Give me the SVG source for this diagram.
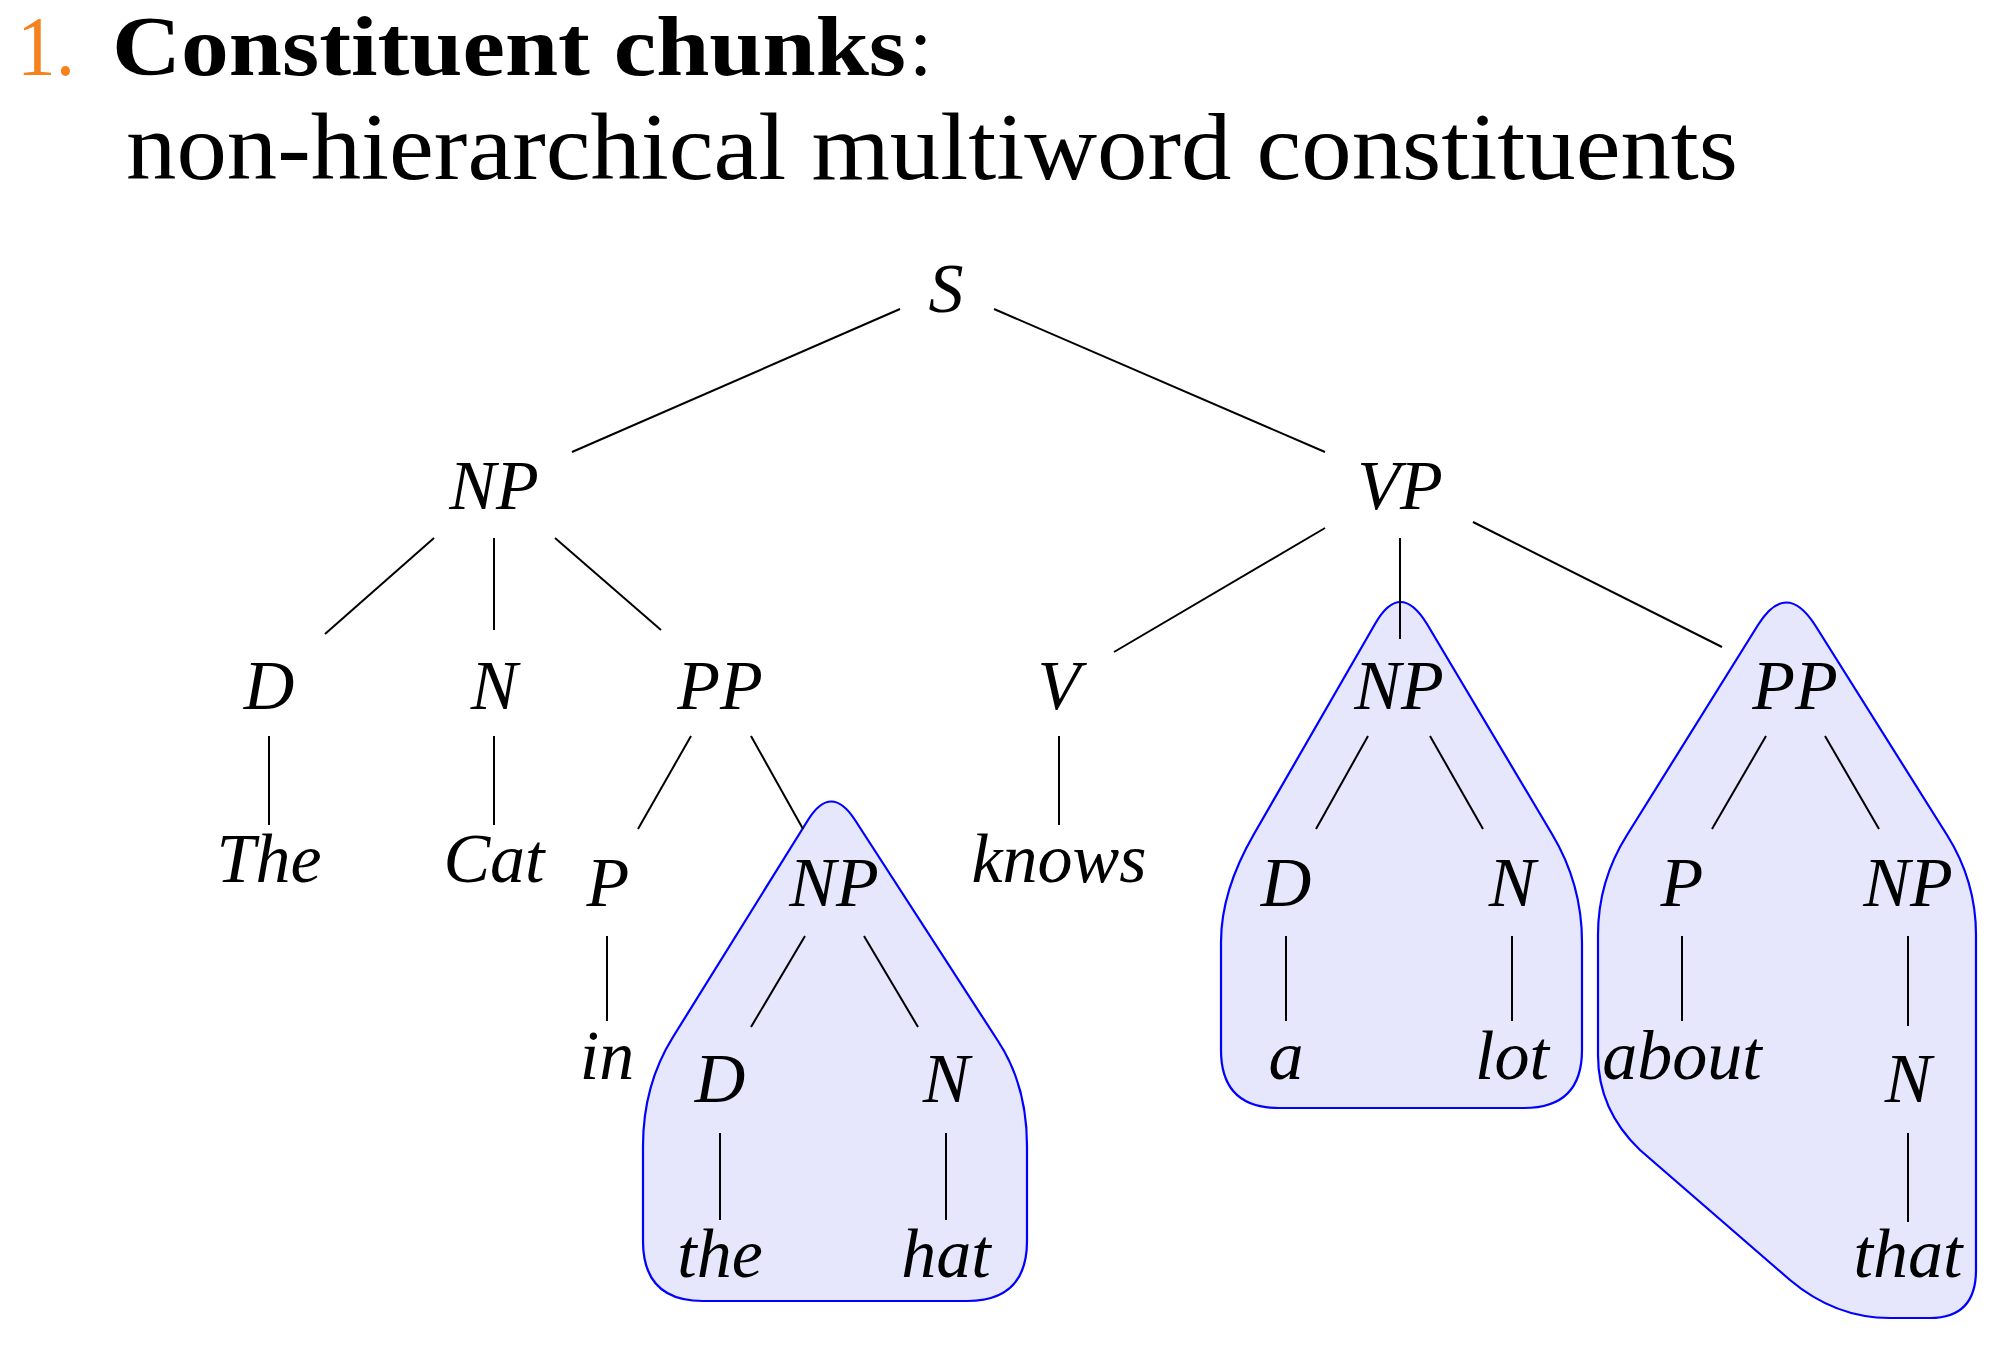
<svg xmlns="http://www.w3.org/2000/svg" width="1996" height="1364" viewBox="0 0 1996 1364">
<style>
.t{font-family:"Liberation Serif","Times New Roman",serif;fill:#000}
.h1{font-size:84px}
.h2{font-size:96px}
.lbl{font-family:"Liberation Serif","Times New Roman",serif;font-style:italic;font-size:70px;fill:#000;text-anchor:middle}
.edge{stroke:#000;stroke-width:2;fill:none;stroke-linecap:butt}
.chunk{fill:#e6e6fc;stroke:#0000ff;stroke-width:2.2}
</style>
<rect width="1996" height="1364" fill="#fff"/>
<g id="title">
<text class="t h1" x="17" y="75" textLength="58" lengthAdjust="spacingAndGlyphs" style="fill:#f5821f">1.</text>
<text class="t h1" x="112" y="75" font-weight="bold" textLength="794" lengthAdjust="spacingAndGlyphs">Constituent chunks</text>
<text class="t h1" x="909" y="75">:</text>
<text class="t h2" x="126" y="179" textLength="1612" lengthAdjust="spacingAndGlyphs">non-hierarchical multiword constituents</text>
</g>
<g id="chunks">
<path id="chunk-NP-the-hat" class="chunk" d="M 808,820 L 673,1037 Q 643,1085 643,1146 L 643,1241 Q 643,1301 703,1301 L 967,1301 Q 1027,1301 1027,1241 L 1027,1146 Q 1027,1085 998,1041 L 855,820 Q 831,783 808,820 Z"/>
<path id="chunk-NP-a-lot" class="chunk" d="M 1375,624 L 1254,834 Q 1221,891 1221,942 L 1221,1050 Q 1221,1108 1279,1108 L 1524,1108 Q 1582,1108 1582,1050 L 1582,942 Q 1582,884 1552,834 L 1427,624 Q 1400,580 1375,624 Z"/>
<path id="chunk-PP-about-that" class="chunk" d="M 1758,625 L 1627,835 Q 1598,881 1598,935 L 1598,1055 Q 1598,1110 1640,1150 L 1790,1280 Q 1835,1318 1890,1318 L 1930,1318 Q 1976,1318 1976,1270 L 1976,935 Q 1976,881 1947,835 L 1815,625 Q 1786,580 1758,625 Z"/>
</g>
<g id="connectors">
<line class="edge" x1="900" y1="309" x2="572" y2="452"/>
<line class="edge" x1="994" y1="309" x2="1325" y2="452"/>
<line class="edge" x1="434" y1="538" x2="325" y2="634"/>
<line class="edge" x1="494" y1="538" x2="494" y2="630"/>
<line class="edge" x1="555" y1="538" x2="661" y2="630"/>
<line class="edge" x1="1325" y1="528" x2="1114" y2="652"/>
<line class="edge" x1="1400" y1="538" x2="1400" y2="639"/>
<line class="edge" x1="1473" y1="522" x2="1722" y2="647"/>
<line class="edge" x1="269" y1="736" x2="269" y2="825"/>
<line class="edge" x1="494" y1="736" x2="494" y2="825"/>
<line class="edge" x1="691" y1="736" x2="638" y2="829"/>
<line class="edge" x1="751" y1="736" x2="803" y2="829"/>
<line class="edge" x1="1059" y1="736" x2="1059" y2="825"/>
<line class="edge" x1="1368" y1="736" x2="1316" y2="829"/>
<line class="edge" x1="1430" y1="736" x2="1483" y2="829"/>
<line class="edge" x1="1766" y1="736" x2="1712" y2="829"/>
<line class="edge" x1="1825" y1="736" x2="1879" y2="829"/>
<line class="edge" x1="607" y1="936" x2="607" y2="1021"/>
<line class="edge" x1="805" y1="936" x2="751" y2="1027"/>
<line class="edge" x1="864" y1="936" x2="918" y2="1027"/>
<line class="edge" x1="1286" y1="936" x2="1286" y2="1021"/>
<line class="edge" x1="1512" y1="936" x2="1512" y2="1021"/>
<line class="edge" x1="1682" y1="936" x2="1682" y2="1021"/>
<line class="edge" x1="1908" y1="936" x2="1908" y2="1026"/>
<line class="edge" x1="720" y1="1133" x2="720" y2="1220"/>
<line class="edge" x1="946" y1="1133" x2="946" y2="1220"/>
<line class="edge" x1="1908" y1="1133" x2="1908" y2="1222"/>
</g>
<g id="n-S"><text class="lbl" x="946" y="312">S</text></g>
<g id="n-NP1"><text class="lbl" x="494" y="509">NP</text></g>
<g id="n-VP"><text class="lbl" x="1400" y="509">VP</text></g>
<g id="n-D1"><text class="lbl" x="269" y="709">D</text></g>
<g id="n-N1"><text class="lbl" x="494" y="709">N</text></g>
<g id="n-PP1"><text class="lbl" x="720" y="709">PP</text></g>
<g id="n-V"><text class="lbl" x="1059" y="709">V</text></g>
<g id="n-NP2"><text class="lbl" x="1399" y="709">NP</text></g>
<g id="n-PP2"><text class="lbl" x="1795" y="709">PP</text></g>
<g id="n-The"><text class="lbl" x="269" y="882">The</text></g>
<g id="n-Cat"><text class="lbl" x="494" y="882">Cat</text></g>
<g id="n-P1"><text class="lbl" x="608" y="906">P</text></g>
<g id="n-NP3"><text class="lbl" x="834" y="906">NP</text></g>
<g id="n-knows"><text class="lbl" x="1059" y="882">knows</text></g>
<g id="n-D2"><text class="lbl" x="1286" y="906">D</text></g>
<g id="n-N2"><text class="lbl" x="1512" y="906">N</text></g>
<g id="n-P2"><text class="lbl" x="1682" y="906">P</text></g>
<g id="n-NP4"><text class="lbl" x="1908" y="906">NP</text></g>
<g id="n-in"><text class="lbl" x="607" y="1079">in</text></g>
<g id="n-a"><text class="lbl" x="1286" y="1079">a</text></g>
<g id="n-lot"><text class="lbl" x="1512" y="1079">lot</text></g>
<g id="n-about"><text class="lbl" x="1682" y="1079">about</text></g>
<g id="n-D3"><text class="lbl" x="720" y="1102">D</text></g>
<g id="n-N3"><text class="lbl" x="946" y="1102">N</text></g>
<g id="n-N4"><text class="lbl" x="1908" y="1102">N</text></g>
<g id="n-the"><text class="lbl" x="720" y="1277">the</text></g>
<g id="n-hat"><text class="lbl" x="946" y="1277">hat</text></g>
<g id="n-that"><text class="lbl" x="1908" y="1277">that</text></g>
</svg>
